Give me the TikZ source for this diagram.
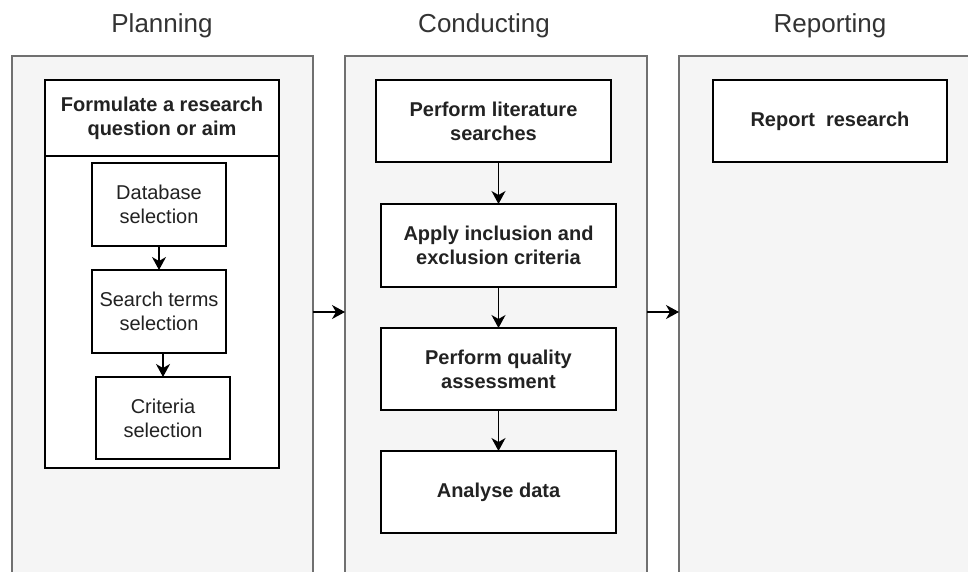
\documentclass[tikz,border=0pt]{standalone}
\usepackage{fontspec}
\setmainfont{Liberation Sans}
\usetikzlibrary{arrows.meta,calc}
\definecolor{panelfill}{HTML}{F5F5F5}
\definecolor{panelline}{HTML}{707070}
\definecolor{txt}{HTML}{222222}
\definecolor{titletxt}{HTML}{333333}
\begin{document}
\begin{tikzpicture}[x=1pt,y=-1pt,
  panel/.style={draw=panelline, fill=panelfill, line width=1.2pt, minimum height=544pt, inner sep=0pt, outer sep=0pt},
  box/.style={draw=black, fill=white, line width=1.3pt, inner sep=2pt, outer sep=0pt, align=center, text=txt},
  boldbox/.style={box, font=\fontsize{20}{24}\selectfont\bfseries},
  plainbox/.style={box, font=\fontsize{20}{24}\selectfont},
  title/.style={anchor=base, text=titletxt, font=\fontsize{26}{30}\selectfont, inner sep=0pt},
  arr/.style={-{Stealth[length=13pt,width=14pt,inset=4pt]}, line width=1.3pt, black}
]
\useasboundingbox (0,0) rectangle (968,571);
\clip (0,0) rectangle (968,571);
\fill[white] (0,0) rectangle (968,571);

% titles
\node[title] (tplan) at (162,32) {Planning};
\node[title] (tcond) at (484,32) {Conducting};
\node[title] (trep) at (830,32) {Reporting};

% panels
\node[panel, minimum width=301pt] (lp) at (162.5,328) {};
\node[panel, minimum width=302pt] (mp) at (496,328) {};
\node[panel, minimum width=321pt] (rp) at (839.5,328) {};

% planning
\node[boldbox, minimum width=234pt, minimum height=76pt] (fhead) at (162,118) {Formulate a research\\question or aim};
\node[box, minimum width=234pt, minimum height=312pt] (fbody) at (162,312) {};
\node[plainbox, minimum width=134pt, minimum height=83pt] (db) at (159,204.5) {Database\\selection};
\node[plainbox, minimum width=134pt, minimum height=83pt] (st) at (159,311.5) {Search terms\\selection};
\node[plainbox, minimum width=134pt, minimum height=82pt] (cs) at (163,418) {Criteria\\selection};
\draw[arr] (db.south) -- (st.north);
\draw[arr] (st.south -| cs.north) -- (cs.north);

% conducting
\node[boldbox, minimum width=235pt, minimum height=82pt] (lit) at (493.5,121) {Perform literature\\searches};
\node[boldbox, minimum width=235pt, minimum height=83pt] (app) at (498.5,245.5) {Apply inclusion and\\exclusion criteria};
\node[boldbox, minimum width=235pt, minimum height=82pt] (qa) at (498.5,369) {Perform quality\\assessment};
\node[boldbox, minimum width=235pt, minimum height=82pt] (ad) at (498.5,492) {Analyse data};
\draw[arr] (lit.south -| app.north) -- (app.north);
\draw[arr] (app.south) -- (qa.north);
\draw[arr] (qa.south) -- (ad.north);

% reporting
\node[boldbox, minimum width=234pt, minimum height=82pt] (rr) at (830,121) {Report\ \ research};

% connectors between panels
\coordinate (ay) at (0,312);
\draw[arr] (lp.east |- ay) -- (mp.west |- ay);
\draw[arr] (mp.east |- ay) -- (rp.west |- ay);
\end{tikzpicture}
\end{document}
